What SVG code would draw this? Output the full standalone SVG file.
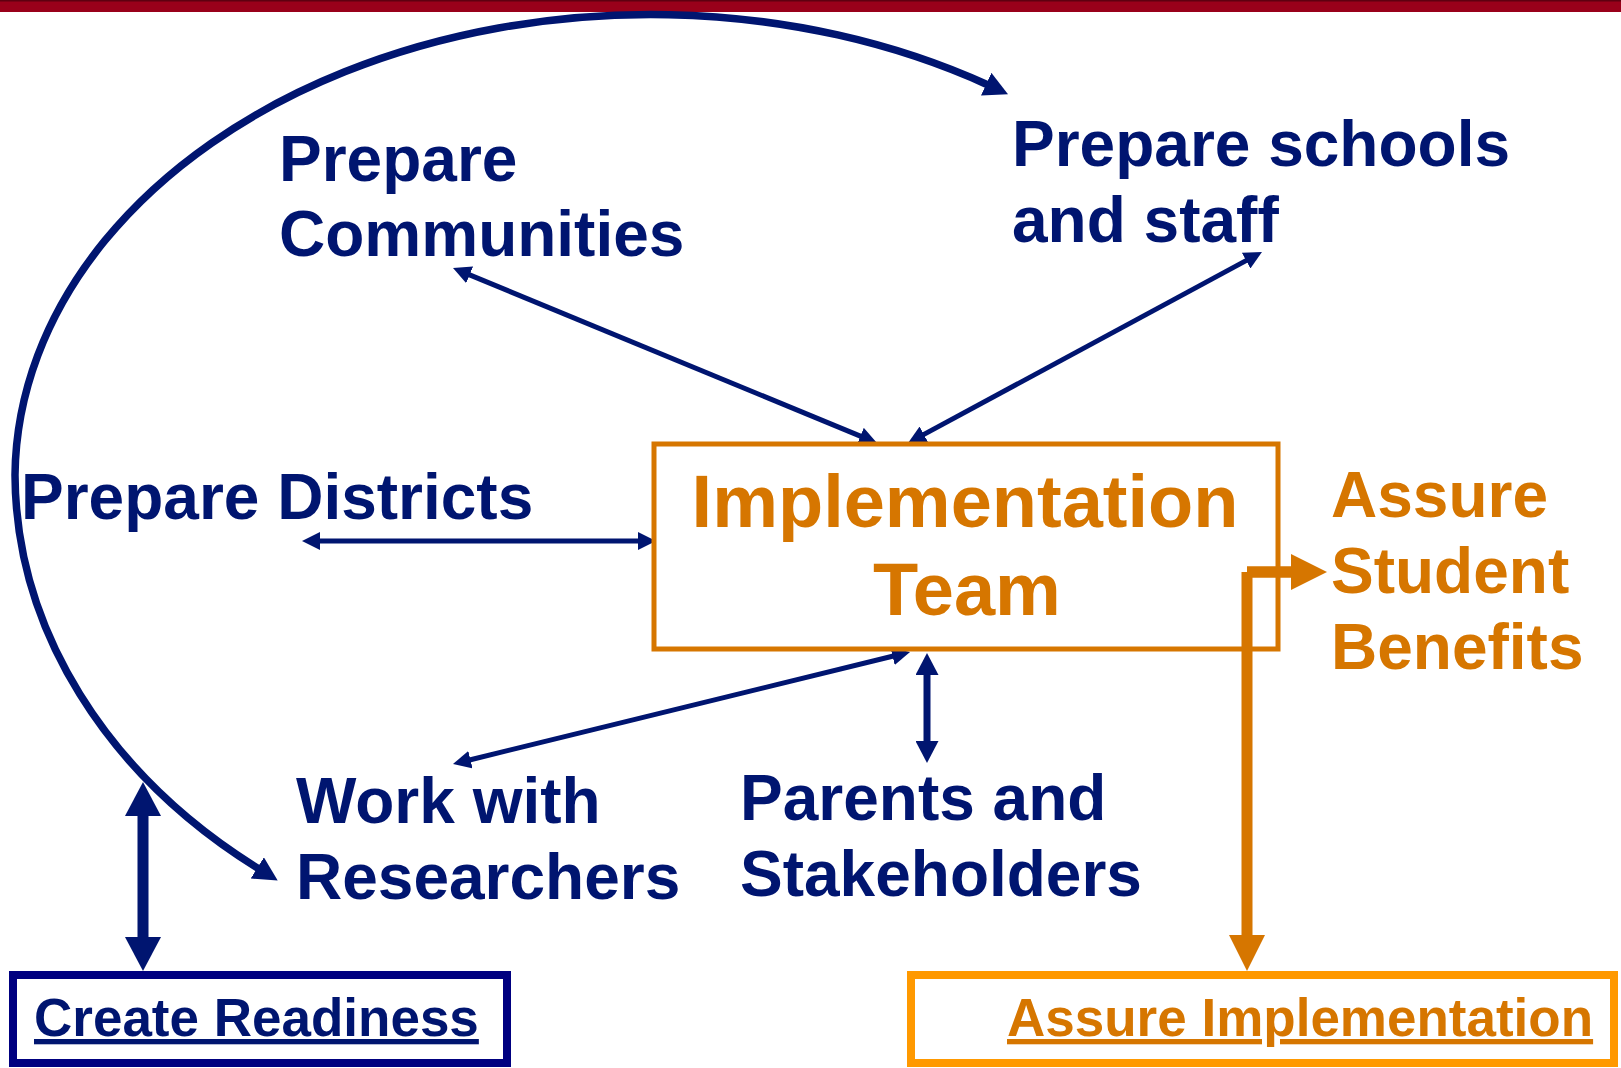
<svg xmlns="http://www.w3.org/2000/svg" width="1621" height="1068" viewBox="0 0 1621 1068">
<style>
.t{font-family:"Liberation Sans",Arial,Helvetica,sans-serif;font-weight:bold;}
.nv{fill:#001570;}
.or{fill:#D67600;}
.c{fill:none;stroke:#001570;}
.thin{stroke-width:5;marker-start:url(#a1);marker-end:url(#a1);}
</style>
<defs>
<marker id="a1" markerUnits="userSpaceOnUse" viewBox="0 0 18 18" markerWidth="18" markerHeight="18" refX="2" refY="9" orient="auto-start-reverse"><path d="M0,0 L18,9 L0,18 z" fill="#001570"/></marker>
<marker id="a2" markerUnits="userSpaceOnUse" viewBox="0 0 22 23" markerWidth="22" markerHeight="23" refX="2" refY="11.5" orient="auto-start-reverse"><path d="M0,0 L22,11.5 L0,23 z" fill="#001570"/></marker>
<marker id="a3" markerUnits="userSpaceOnUse" viewBox="0 0 24 25" markerWidth="24" markerHeight="25" refX="2" refY="12.5" orient="auto-start-reverse"><path d="M0,0 L24,12.5 L0,25 z" fill="#001570"/></marker>
<marker id="a4" markerUnits="userSpaceOnUse" viewBox="0 0 34 36" markerWidth="34" markerHeight="36" refX="2" refY="18" orient="auto-start-reverse"><path d="M0,0 L34,18 L0,36 z" fill="#001570"/></marker>
<marker id="a5" markerUnits="userSpaceOnUse" viewBox="0 0 36 36" markerWidth="36" markerHeight="36" refX="2" refY="18" orient="auto"><path d="M0,0 L36,18 L0,36 z" fill="#D67600"/></marker>
</defs>
<rect x="0" y="0" width="1621" height="1068" fill="#ffffff"/>
<rect x="0" y="0" width="1621" height="12" fill="#99001A"/>
<rect x="0" y="0" width="1621" height="1.5" fill="#5E0010"/>

<g id="connectors">
<path class="c" d="M988,85 A636,464 0 0 0 15,475 A636,503 0 0 0 259,869" stroke-width="7.5" marker-start="url(#a3)" marker-end="url(#a3)"/>
<line class="c thin" x1="467.8" y1="274.1" x2="862.2" y2="436.9"/>
<line class="c thin" x1="1247.9" y1="259.6" x2="922.1" y2="435.4"/>
<line class="c thin" x1="318" y1="541" x2="640" y2="541"/>
<line class="c thin" x1="468.5" y1="760.2" x2="894.5" y2="655.8"/>
<line class="c" x1="927" y1="673" x2="927" y2="743" stroke-width="7" marker-start="url(#a2)" marker-end="url(#a2)"/>
<line class="c" x1="143" y1="814" x2="143" y2="939" stroke-width="11" marker-start="url(#a4)" marker-end="url(#a4)"/>
<line x1="1247" y1="572" x2="1293" y2="572" stroke="#D67600" stroke-width="11.5" marker-end="url(#a5)"/>
<line x1="1247" y1="572" x2="1247" y2="937" stroke="#D67600" stroke-width="11" marker-end="url(#a5)"/>
</g>

<g id="prepare-communities">
<text class="t nv" font-size="64" x="279" y="181">Prepare</text>
<text class="t nv" font-size="64" x="279" y="256">Communities</text>
</g>
<g id="prepare-schools">
<text class="t nv" font-size="64" x="1012" y="166">Prepare schools</text>
<text class="t nv" font-size="64" x="1012" y="242">and staff</text>
</g>
<g id="prepare-districts">
<text class="t nv" font-size="64" x="21" y="519">Prepare Districts</text>
</g>
<g id="implementation-team">
<rect x="654" y="444" width="624" height="205" fill="none" stroke="#D67600" stroke-width="5"/>
<text class="t or" font-size="74" x="965" y="527" text-anchor="middle">Implementation</text>
<text class="t or" font-size="74" x="967" y="615" text-anchor="middle">Team</text>
</g>
<g id="assure-student-benefits">
<text class="t or" font-size="64" x="1331" y="517">Assure</text>
<text class="t or" font-size="64" x="1331" y="593">Student</text>
<text class="t or" font-size="64" x="1331" y="669">Benefits</text>
</g>
<g id="work-with-researchers">
<text class="t nv" font-size="64" x="296" y="823">Work with</text>
<text class="t nv" font-size="64" x="296" y="899">Researchers</text>
</g>
<g id="parents-stakeholders">
<text class="t nv" font-size="64" x="740" y="820">Parents and</text>
<text class="t nv" font-size="64" x="740" y="896">Stakeholders</text>
</g>
<g id="create-readiness">
<rect x="13" y="975" width="494" height="88" fill="#ffffff" stroke="#000080" stroke-width="8"/>
<text class="t nv" font-size="53" x="34" y="1036" text-decoration="underline">Create Readiness</text>
</g>
<g id="assure-implementation">
<rect x="911" y="975" width="703" height="88" fill="#ffffff" stroke="#FF9900" stroke-width="8"/>
<text class="t or" font-size="53" x="1007" y="1036" text-decoration="underline">Assure Implementation</text>
</g>
</svg>
